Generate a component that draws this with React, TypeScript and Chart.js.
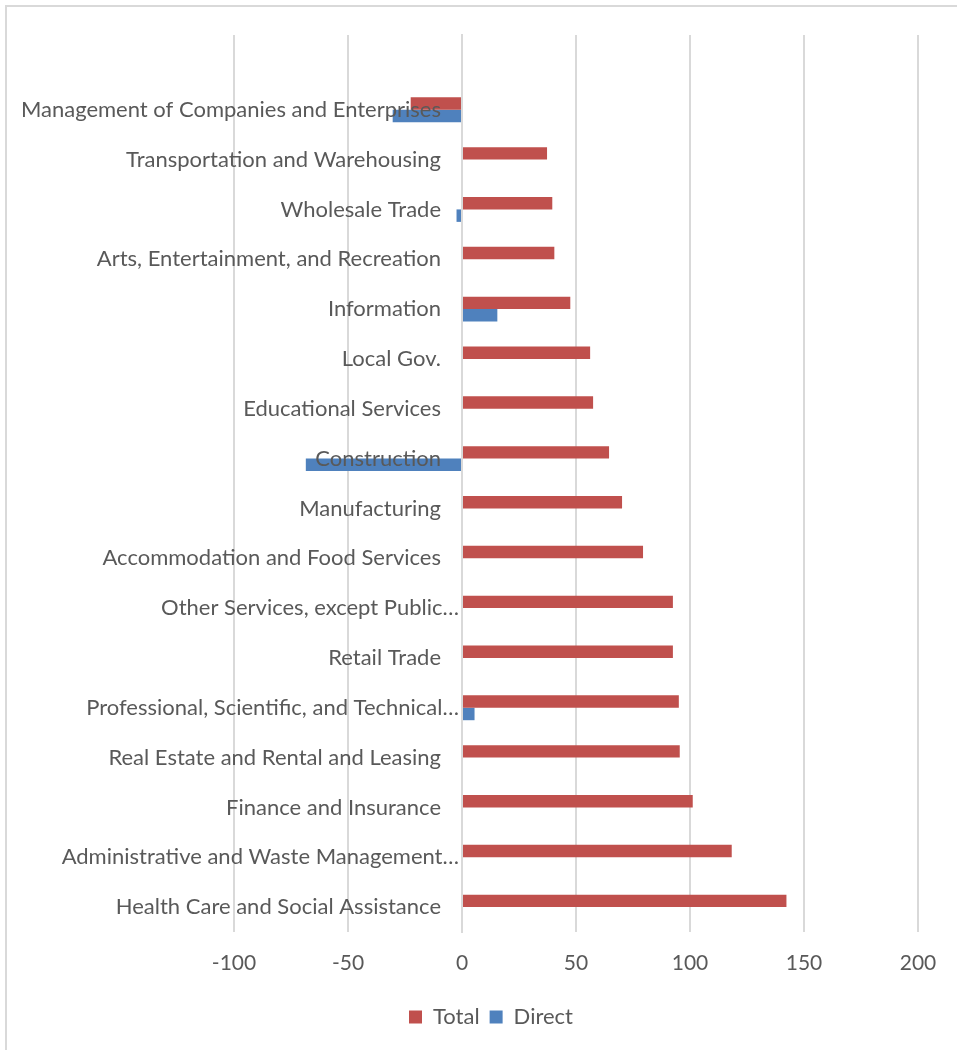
import React, { useEffect, useRef } from 'react';
import { Chart, registerables } from 'chart.js';

Chart.register(...registerables);

const categories = [
  '',
  'Management of Companies and Enterprises',
  'Transportation and Warehousing',
  'Wholesale Trade',
  'Arts, Entertainment, and Recreation',
  'Information',
  'Local Gov.',
  'Educational Services',
  'Construction',
  'Manufacturing',
  'Accommodation and Food Services',
  'Other Services, except Public…',
  'Retail Trade',
  'Professional, Scientific, and Technical…',
  'Real Estate and Rental and Leasing',
  'Finance and Insurance',
  'Administrative and Waste Management…',
  'Health Care and Social Assistance',
];

const totalValues = [null, -22.5, 37.3, 39.6, 40.5, 47.5, 56.2, 57.5, 64.5, 70.2, 79.4, 92.5, 92.5, 95.1, 95.5, 101.2, 118.3, 142.3];
const directValues = [null, -30.4, null, -2.4, null, 15.5, null, null, -68.5, null, null, null, null, 5.5, null, null, null, null];

const seriesNames = ['Total', 'Direct'];
const xMin = -100;
const xMax = 200;
const xStep = 50;

const FONT = 'Lato';
const TEXT = '#595959';
const GRID = '#d9d9d9';

export default function App() {
  const ref = useRef<HTMLCanvasElement>(null);

  useEffect(() => {
    document.body.style.margin = '0';
    const helperPlugin = {
      id: 'helper',
      beforeDraw(chart: any) {
        const ctx = chart.ctx;
        ctx.save();
        ctx.fillStyle = '#ffffff';
        ctx.fillRect(0, 0, chart.width, chart.height);
        ctx.strokeStyle = GRID;
        ctx.lineWidth = 2;
        ctx.strokeRect(6, 6, 1000, 1100);
        ctx.restore();
        // offset category labels from the zero axis line, like the reference
        const y = chart.scales.y;
        const items = y.getLabelItems();
        items.forEach((it: any) => {
          if (it._shifted) return;
          const lbl = String(it.label);
          it.options.translation[0] -= lbl.endsWith('…') ? 3 : 21;
          it._shifted = true;
        });
      },
      afterLayout(chart: any) {
        const lg = chart.legend;
        if (lg) {
          const shift = 491 - (lg.left + lg.right) / 2;
          lg.left += shift;
          lg.right += shift;
        }
      },
    };

    const chart = new Chart(ref.current as HTMLCanvasElement, {
      type: 'bar',
      data: {
        labels: categories,
        datasets: [
          { label: seriesNames[0], data: totalValues as any, backgroundColor: '#C0504D' },
          { label: seriesNames[1], data: directValues as any, backgroundColor: '#4F81BD' },
        ],
      },
      options: {
        indexAxis: 'y',
        animation: false,
        responsive: false,
        layout: { padding: { left: 234, right: 39, top: 35, bottom: 12 } },
        datasets: { bar: { categoryPercentage: 0.5, barPercentage: 1 } } as any,
        scales: {
          x: {
            min: xMin,
            max: xMax,
            ticks: { stepSize: xStep, color: TEXT, font: { family: FONT, size: 21 }, padding: 19 },
            grid: { color: GRID, lineWidth: 2, drawTicks: false },
            border: { display: false },
            afterFit(s: any) {
              s.height = 64;
            },
          } as any,
          y: {
            position: { x: 0 } as any,
            grid: { display: false, drawTicks: false },
            border: { color: GRID, width: 2, z: 1 },
            ticks: { color: TEXT, font: { family: FONT, size: 22 }, autoSkip: false, z: 1 },
          } as any,
        },
        plugins: {
          legend: {
            position: 'bottom',
            labels: { boxWidth: 13, boxHeight: 13, color: TEXT, font: { family: FONT, size: 22 } },
          },
          tooltip: { enabled: false },
        },
      },
      plugins: [helperPlugin],
    });
    return () => chart.destroy();
  }, []);

  return (
    <div style={{ width: 957, height: 1050 }}>
      <canvas ref={ref} width={957} height={1050} style={{ display: 'block', width: 957, height: 1050 }} />
    </div>
  );
}
